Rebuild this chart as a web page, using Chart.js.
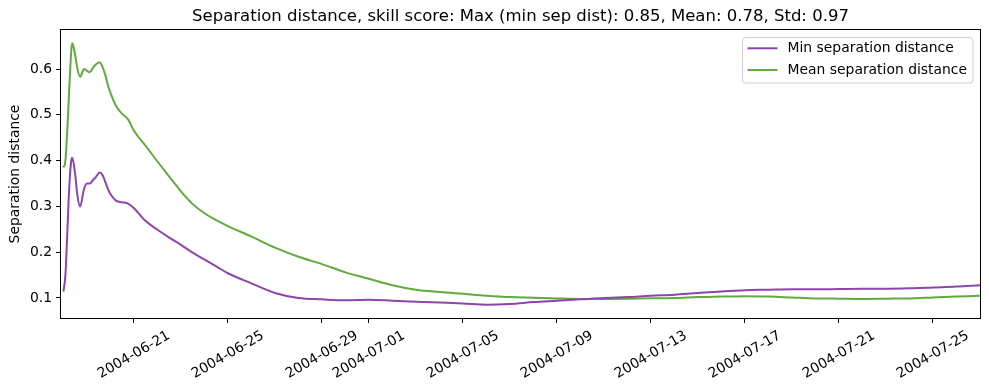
<!DOCTYPE html>
<html>
<head>
<meta charset="utf-8">
<script src="https://cdn.jsdelivr.net/npm/chart.js@4.4.1/dist/chart.umd.min.js"></script>
<style>
  html, body { margin: 0; padding: 0; background: #fff; }
</style>
</head>
<body>
<canvas id="chart" width="989" height="390"></canvas>
<script>
const chartTitle = 'Separation distance, skill score: Max (min sep dist): 0.85, Mean: 0.78, Std: 0.97'
const yTitle = 'Separation distance'
const seriesLabels = ['Min separation distance', 'Mean separation distance']
const seriesColors = ['#8e44ad', '#5fab3f']

const times = [
  '2004-06-18T00:00', '2004-06-18T02:00', '2004-06-18T04:00', '2004-06-18T06:00', '2004-06-18T08:00',
  '2004-06-18T09:00', '2004-06-18T12:00', '2004-06-18T14:00', '2004-06-18T17:00', '2004-06-18T21:00',
  '2004-06-19T00:00', '2004-06-19T03:00', '2004-06-19T06:00', '2004-06-19T09:00', '2004-06-19T13:00',
  '2004-06-19T16:00', '2004-06-19T19:00', '2004-06-19T22:00', '2004-06-20T00:00',
  '2004-06-20T06:00', '2004-06-20T12:00', '2004-06-20T18:00',
  '2004-06-21T00:00', '2004-06-21T12:00', '2004-06-22T00:00', '2004-06-22T12:00', '2004-06-23T00:00',
  '2004-06-23T12:00', '2004-06-24T00:00', '2004-06-24T12:00', '2004-06-25T00:00',
  '2004-06-26T00:00', '2004-06-27T00:00', '2004-06-28T00:00', '2004-06-29T00:00', '2004-06-30T00:00',
  '2004-07-01T00:00', '2004-07-02T00:00', '2004-07-03T00:00', '2004-07-04T00:00', '2004-07-05T00:00',
  '2004-07-06T00:00', '2004-07-07T00:00', '2004-07-08T00:00', '2004-07-09T00:00', '2004-07-10T00:00',
  '2004-07-11T00:00', '2004-07-12T00:00', '2004-07-13T00:00', '2004-07-14T00:00', '2004-07-15T00:00',
  '2004-07-16T00:00', '2004-07-17T00:00', '2004-07-18T00:00', '2004-07-19T00:00', '2004-07-20T00:00',
  '2004-07-21T00:00', '2004-07-22T00:00', '2004-07-23T00:00', '2004-07-24T00:00', '2004-07-25T00:00',
  '2004-07-26T00:00', '2004-07-27T00:00'
]

const minSep = [
  0.114, 0.150, 0.245, 0.345, 0.400, 0.406, 0.370, 0.328, 0.300, 0.338,
  0.350, 0.350, 0.357, 0.364, 0.374, 0.368, 0.352, 0.335, 0.327,
  0.312, 0.309, 0.306,
  0.296, 0.268, 0.249, 0.232, 0.216, 0.199, 0.184, 0.169, 0.154,
  0.132, 0.111, 0.100, 0.097, 0.095, 0.096, 0.094, 0.092, 0.090, 0.088,
  0.0855, 0.087, 0.091, 0.094, 0.097, 0.100, 0.102, 0.105, 0.107, 0.111,
  0.114, 0.117, 0.118, 0.119, 0.119, 0.1195, 0.120, 0.120, 0.121, 0.123,
  0.125, 0.128
]

const meanSep = [
  0.385, 0.400, 0.470, 0.560, 0.640, 0.656, 0.630, 0.603, 0.583, 0.600,
  0.596, 0.593, 0.602, 0.610, 0.615, 0.604, 0.585, 0.560, 0.548,
  0.518, 0.502, 0.490,
  0.465, 0.432, 0.398, 0.365, 0.333, 0.305, 0.285, 0.270, 0.257,
  0.234, 0.210, 0.190, 0.174, 0.156, 0.142, 0.128, 0.118, 0.113, 0.109,
  0.105, 0.102, 0.1005, 0.099, 0.098, 0.098, 0.0985, 0.0995, 0.100, 0.102,
  0.103, 0.104, 0.103, 0.101, 0.099, 0.0985, 0.098, 0.0985, 0.099, 0.101,
  0.103, 0.105
]

const xTickDates = ['2004-06-21', '2004-06-25', '2004-06-29', '2004-07-01', '2004-07-05',
  '2004-07-09', '2004-07-13', '2004-07-17', '2004-07-21', '2004-07-25']
const yTicks = [0.1, 0.2, 0.3, 0.4, 0.5, 0.6]

const xStart = '2004-06-17T21:30'
const xEnd = '2004-07-27T00:00'

const toMs = s => Date.parse(s.length > 10 ? s + ':00Z' : s + 'T00:00:00Z')

const FONT = 'DejaVu Sans'
Chart.defaults.font.family = FONT
Chart.defaults.font.size = 13.9
Chart.defaults.color = '#000'

// title, frame, rotated date labels and legend, drawn like matplotlib
const decorations = {
  id: 'decorations',
  afterDraw (chart) {
    const { ctx, chartArea: a, scales: { x } } = chart
    ctx.save()

    ctx.strokeStyle = '#000'
    ctx.lineWidth = 1
    ctx.strokeRect(a.left - 0.5, a.top - 0.5, a.right - a.left + 1, a.bottom - a.top + 1)

    ctx.fillStyle = '#000'
    ctx.font = '16.5px ' + FONT
    ctx.textAlign = 'center'
    ctx.textBaseline = 'alphabetic'
    ctx.fillText(chartTitle, (a.left + a.right) / 2, 21)

    ctx.font = '13.9px ' + FONT
    ctx.textBaseline = 'middle'
    const ang = Math.PI / 6
    xTickDates.forEach(d => {
      const px = x.getPixelForValue(toMs(d))
      const w = ctx.measureText(d).width
      const h = 13.9 * 1.164
      const H = w * Math.sin(ang) + h * Math.cos(ang)
      const cy = a.bottom + 9.8 + H / 2
      ctx.save()
      ctx.translate(px, cy)
      ctx.rotate(-ang)
      ctx.fillText(d, 0, 0)
      ctx.restore()
    })

    // legend
    const textW = Math.max(...seriesLabels.map(l => ctx.measureText(l).width))
    const boxW = 45 + textW + 6
    const boxR = a.right - 7
    const boxL = boxR - boxW
    const boxT = a.top + 7.5
    const boxH = 45.5
    ctx.beginPath()
    ctx.roundRect(boxL, boxT, boxW, boxH, 3)
    ctx.fillStyle = 'rgba(255,255,255,0.8)'
    ctx.fill()
    ctx.strokeStyle = 'rgba(204,204,204,0.9)'
    ctx.stroke()
    ctx.textAlign = 'left'
    seriesLabels.forEach((l, i) => {
      const y = boxT + 10.8 + i * 21.7
      ctx.strokeStyle = seriesColors[i]
      ctx.lineWidth = 2
      ctx.beginPath()
      ctx.moveTo(boxL + 5, y)
      ctx.lineTo(boxL + 35, y)
      ctx.stroke()
      ctx.fillStyle = '#000'
      ctx.fillText(l, boxL + 45, y)
    })
    ctx.restore()
  }
}

const ctx = document.getElementById('chart')
const chartInstance = new Chart(ctx, {
  type: 'line',
  data: {
    datasets: [minSep, meanSep].map((vals, i) => ({
      label: seriesLabels[i],
      data: vals.map((v, j) => ({ x: toMs(times[j]), y: v })),
      borderColor: seriesColors[i],
      backgroundColor: seriesColors[i],
      borderWidth: 2,
      pointRadius: 0,
      cubicInterpolationMode: 'monotone',
      fill: false
    }))
  },
  options: {
    responsive: false,
    animation: false,
    layout: { padding: { top: 30, right: 9, left: 0, bottom: 0 } },
    plugins: {
      legend: { display: false },
      title: { display: false },
      tooltip: { enabled: false }
    },
    scales: {
      x: {
        type: 'linear',
        min: toMs(xStart),
        max: toMs(xEnd),
        afterBuildTicks: scale => { scale.ticks = xTickDates.map(d => ({ value: toMs(d) })) },
        afterFit: scale => { scale.height = 72 },
        ticks: { display: false },
        grid: { drawOnChartArea: false, drawTicks: true, tickLength: 5, tickColor: '#000', color: '#000' },
        border: { display: false }
      },
      y: {
        min: 0.0563,
        max: 0.6852,
        afterBuildTicks: scale => { scale.ticks = yTicks.map(v => ({ value: v })) },
        afterFit: scale => { scale.width = 61 },
        ticks: { padding: 4, color: '#000', callback: v => v.toFixed(1) },
        grid: { drawOnChartArea: false, drawTicks: true, tickLength: 5, tickColor: '#000', color: '#000' },
        border: { display: false },
        title: { display: true, text: yTitle, color: '#000', padding: { top: 7, bottom: 0 } }
      }
    }
  },
  plugins: [decorations]
})

chartInstance.update()
</script>
</body>
</html>
